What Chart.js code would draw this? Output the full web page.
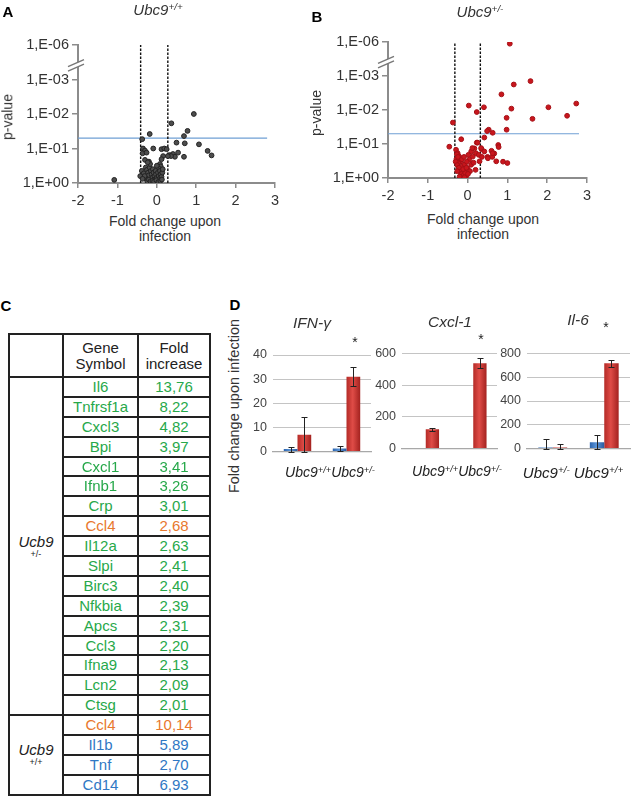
<!DOCTYPE html>
<html><head><meta charset="utf-8">
<script src="https://cdn.jsdelivr.net/npm/chart.js@4.4.1/dist/chart.umd.min.js"></script>
<style>
html,body{margin:0;padding:0;background:#fff;}
body{width:631px;height:796px;position:relative;overflow:hidden;font-family:"Liberation Sans",Arial,sans-serif;color:#333;}
canvas{position:absolute;}
.t{position:absolute;transform:translate(-50%,-50%);white-space:nowrap;line-height:1.1;}
.sup{font-size:0.66em;vertical-align:0.45em;}
table{position:absolute;left:8px;top:333px;border-collapse:collapse;table-layout:fixed;font-size:15px;}
td{border:2px solid #222;text-align:center;padding:0;line-height:16px;overflow:hidden;white-space:nowrap;}
</style></head>
<body>
<canvas id="volA" width="300" height="210" style="left:0;top:0"></canvas>
<canvas id="volB" width="300" height="205" style="left:310px;top:0"></canvas>
<canvas id="barIFN" width="128" height="125" style="left:244px;top:340px"></canvas>
<canvas id="barCXCL" width="128" height="122" style="left:370px;top:340px"></canvas>
<canvas id="barIL6" width="141" height="122" style="left:490px;top:340px"></canvas>
<script>
// ---------- DATA ----------
// Volcano plots: [fold change, -log10(p) axis position]
const yTickLabels = ['1,E+00','1,E-01','1,E-02','1,E-03','1,E-06'];
const pointsA = [[-1.08,0.09],[0.94,2.0],[0.37,1.73],[0.78,1.51],[0.69,1.36],[-0.18,1.42],[-0.37,1.27],[0.50,1.17],[0.71,1.15],[1.07,1.12],[1.29,0.93],[1.39,0.8],[0.69,0.76],
[-0.35,1.0],[-0.30,0.94],[-0.36,0.86],[-0.26,0.88],[-0.09,1.0],[0.12,0.98],[0.19,1.0],[0.25,0.98],[0.33,0.81],[0.41,0.84],[0.46,0.76],[0.54,0.88],[0.36,0.78],[0.28,0.78],
[-0.30,0.67],[-0.20,0.62],[0.16,0.78],[0.12,0.69],[0.08,0.55],[0.10,0.48],[0.05,0.42],
[-0.38,0.35],[-0.33,0.28],[-0.28,0.45],[-0.25,0.38],[-0.22,0.30],[-0.20,0.22],[-0.18,0.45],[-0.15,0.35],[-0.13,0.25],[-0.12,0.15],[-0.10,0.40],[-0.08,0.30],[-0.06,0.20],[-0.05,0.10],[-0.03,0.35],[-0.02,0.25],[0.0,0.15],[0.02,0.05],[0.03,0.30],[0.05,0.20],[0.07,0.12],[0.08,0.35],[0.10,0.25],[0.12,0.18],[0.14,0.30],[0.15,0.40],[-0.27,0.12],[-0.24,0.05],[-0.20,0.10],[-0.16,0.05],[-0.11,0.06],[-0.07,0.04],[-0.01,0.08],[0.04,0.03],[0.09,0.06],[-0.31,0.20],[-0.42,0.20],[-0.36,0.12],[-0.17,0.55],[-0.23,0.60],[0.0,0.5],[0.13,0.10]];
const pointsB = [[1.06,3.95],[1.58,2.85],[1.16,2.75],[0.85,2.46],[2.73,2.19],[0.03,2.13],[0.41,2.08],[2.03,2.08],[1.10,2.04],[0.23,1.94],[2.50,1.83],[0.98,1.77],[1.63,1.74],[-0.37,1.63],[0.98,1.42],[0.53,1.42],[0.49,1.38],[0.63,1.33],[0.42,1.19],[-0.16,1.14],[0.23,1.04],[-0.46,0.92],[0.77,0.97],[0.78,0.91],[0.35,0.85],[0.17,0.87],[0.60,0.80],[0.67,0.72],[0.50,0.62],[0.62,0.62],[0.89,0.48],[1.00,0.44],[0.20,0.24],
[-0.29,0.83],[-0.25,0.73],[-0.21,0.63],[-0.28,0.56],[-0.17,0.49],[-0.23,0.44],[-0.13,0.34],[-0.19,0.24],[-0.08,0.19],[-0.13,0.10],[-0.04,0.05],[0.09,0.78],[0.21,0.73],[0.13,0.63],[0.04,0.54],[0.09,0.39],[0.0,0.29],[0.25,1.04],[0.34,0.88],[0.30,0.49],[0.42,0.78],[0.51,0.58],[0.63,0.73],[0.72,0.49],
[-0.27,0.70],[-0.24,0.62],[-0.30,0.48],[-0.26,0.38],[-0.22,0.30],[-0.18,0.18],[-0.15,0.12],[-0.10,0.08],[-0.06,0.15],[-0.11,0.26],[-0.07,0.40],[-0.03,0.30],[-0.14,0.55],[-0.09,0.62],[-0.02,0.48],[0.02,0.68],[0.06,0.20],[-0.20,0.04],[-0.08,0.02],[0.01,0.12],[0.15,0.45],[-0.26,0.20],[0.12,0.88],[0.28,0.68],[0.36,0.62]];
const foldCutsA = [-0.41, 0.28];
const foldCutsB = [-0.32, 0.32];
const pThreshold = 1.301; // p = 0.05
const thresholdEndX = 2.8;

// Table
const hetGenes = ['Il6','Tnfrsf1a','Cxcl3','Bpi','Cxcl1','Ifnb1','Crp','Ccl4','Il12a','Slpi','Birc3','Nfkbia','Apcs','Ccl3','Ifna9','Lcn2','Ctsg'];
const hetFold  = [13.76,8.22,4.82,3.97,3.41,3.26,3.01,2.68,2.63,2.41,2.40,2.39,2.31,2.20,2.13,2.09,2.01];
const wtGenes  = ['Ccl4','Il1b','Tnf','Cd14'];
const wtFold   = [10.14,5.89,2.70,6.93];

// Bar panels
const catsIFN  = ['Ubc9+/+','Ubc9+/-'];
const ifnBlue = [1.0, 1.2], ifnBlueErr = [1.0, 0.9];
const ifnRed  = [6.9, 31.0], ifnRedErr = [7.5, 3.9];
const catsCXCL = ['Ubc9+/+','Ubc9+/-'];
const cxclBlue = [3, 3], cxclBlueErr = [0, 0];
const cxclRed  = [121, 538], cxclRedErr = [9, 32];
const catsIL6  = ['Ubc9+/-','Ubc9+/+'];
const il6Blue = [8, 52], il6BlueErr = [74, 62];
const il6Red  = [8, 718], il6RedErr = [34, 30];

// ---------- HELPERS ----------
const FAM = '"Liberation Sans", Arial, sans-serif';
function txt(html, cx, cy, style){
  const d=document.createElement('div'); d.className='t'; d.innerHTML=html;
  d.style.left=cx+'px'; d.style.top=cy+'px'; Object.assign(d.style, style||{});
  document.body.appendChild(d); return d;
}
function supLabel(s){ const m=s.match(/^(.*?)([+\-]\/[+\-])$/); return m? m[1]+'<span class="sup">'+m[2]+'</span>' : s; }

const breakPlugin = {id:'axbreak', afterDraw(chart){
  const {ctx, chartArea, scales:{y}} = chart; const x = chartArea.left; const yc = y.getPixelForValue(3.4);
  ctx.save();
  ctx.fillStyle='#fff'; ctx.beginPath();
  ctx.moveTo(x-10,yc+1); ctx.lineTo(x+6,yc-6); ctx.lineTo(x+6,yc-1.5); ctx.lineTo(x-10,yc+5.5); ctx.closePath(); ctx.fill();
  ctx.strokeStyle='#777'; ctx.lineWidth=1.4;
  ctx.beginPath(); ctx.moveTo(x-10,yc+1); ctx.lineTo(x+6,yc-6); ctx.moveTo(x-10,yc+5.5); ctx.lineTo(x+6,yc-1.5); ctx.stroke();
  ctx.restore();
}};

function volcano(id, pts, ptFill, ptBorder, cuts, yW, padTop, padRight){
  const axisCol='#8c8c8c';
  return new Chart(document.getElementById(id), {
    type:'scatter',
    data:{datasets:[
      {data: pts.map(p=>({x:p[0],y:p[1]})), pointRadius:2.4, pointBackgroundColor:ptFill, pointBorderColor:ptBorder, pointBorderWidth:1},
      ...cuts.map(c=>({type:'line', data:[{x:c,y:0},{x:c,y:4}], borderColor:'#111', borderWidth:1.4, borderDash:[2.5,1.5], pointRadius:0, fill:false})),
      {type:'line', data:[{x:-2,y:pThreshold},{x:thresholdEndX,y:pThreshold}], borderColor:'#6f9fd4', borderWidth:1.2, pointRadius:0, fill:false}
    ]},
    options:{responsive:false, animation:false, events:[],
      layout:{padding:{top:padTop,right:padRight,left:0,bottom:0}},
      plugins:{legend:{display:false},tooltip:{enabled:false}},
      scales:{
        x:{type:'linear',min:-2,max:3, afterFit(s){s.height=27;},
           ticks:{stepSize:1, font:{size:14.5,family:FAM}, color:'#333', padding:4},
           grid:{drawOnChartArea:false, tickLength:5, color:axisCol, lineWidth:1.5},
           border:{color:axisCol,width:2}},
        y:{min:0,max:4, afterFit(s){s.width=yW;},
           ticks:{stepSize:1, font:{size:14.5,family:FAM}, color:'#333', padding:3, callback:v=>yTickLabels[v]??''},
           grid:{drawOnChartArea:false, tickLength:6, color:axisCol, lineWidth:1.5},
           border:{color:axisCol,width:2}}
      }
    },
    plugins:[breakPlugin]
  });
}
volcano('volA', pointsA, '#4d4d4d', '#222', foldCutsA, 78, 45, 25);
volcano('volB', pointsB, '#c8161d', '#a50f15', foldCutsB, 78, 42, 23);

// Bars
function gradFor(ctx, dark, light, darker){
  const chart=ctx.chart; const xs=chart.scales.x; if(!xs || xs.right===undefined) return light;
  const n=chart.data.labels.length; const catW=(xs.right-xs.left)/n; const pairW=catW*0.56; const bw=pairW/2;
  const c=xs.getPixelForValue(ctx.dataIndex); const x0=c-pairW/2+ctx.datasetIndex*bw;
  if(!isFinite(x0)) return light;
  const g=chart.ctx.createLinearGradient(x0,0,x0+bw,0);
  g.addColorStop(0,dark); g.addColorStop(0.45,light); g.addColorStop(1,darker); return g;
}
function barChart(id, cats, blue, blueErr, red, redErr, yMax, step, yW, padTop){
  const errs=[blueErr, redErr];
  const errPlugin={id:'err', afterDatasetsDraw(chart){
    const {ctx, scales:{y}}=chart; ctx.save(); ctx.strokeStyle='#222'; ctx.lineWidth=1;
    chart.data.datasets.forEach((ds,i)=>{ chart.getDatasetMeta(i).data.forEach((bar,j)=>{
      const e=errs[i][j]; if(!e) return; const v=ds.data[j];
      const yt=Math.round(y.getPixelForValue(v+e))+0.5, yb=Math.round(y.getPixelForValue(Math.max(0,v-e)))+0.5, x=Math.round(bar.x)+0.5;
      ctx.beginPath(); ctx.moveTo(x,yt); ctx.lineTo(x,yb); ctx.moveTo(x-3,yt); ctx.lineTo(x+3,yt); ctx.moveTo(x-3,yb); ctx.lineTo(x+3,yb); ctx.stroke();
    });});
    ctx.restore();
  }};
  return new Chart(document.getElementById(id), {
    type:'bar',
    data:{labels:cats, datasets:[
      {label:'series 1', data:blue, backgroundColor:c=>gradFor(c,'#2c64ad','#5a95da','#2a5b9e'), categoryPercentage:0.56, barPercentage:1.0},
      {label:'series 2', data:red, backgroundColor:c=>gradFor(c,'#b42b27','#df4c47','#a3221f'), categoryPercentage:0.56, barPercentage:1.0}
    ]},
    options:{responsive:false, animation:false, events:[],
      layout:{padding:{top:padTop,right:1,left:0,bottom:0}},
      plugins:{legend:{display:false},tooltip:{enabled:false}},
      scales:{
        x:{afterFit(s){s.height=4;}, ticks:{display:false}, grid:{display:false}, border:{color:'#a8a8a8',width:1.2}},
        y:{min:0,max:yMax, afterFit(s){s.width=yW;},
           ticks:{stepSize:step, font:{size:12.5,family:'"Liberation Sans Narrow", "Liberation Sans", Arial'}, color:'#444', padding:6},
           grid:{color:'#c4c4c4', drawTicks:false, lineWidth:1}, border:{display:false}}
      }
    },
    plugins:[errPlugin]
  });
}
barChart('barIFN', catsIFN, ifnBlue, ifnBlueErr, ifnRed, ifnRedErr, 40, 10, 29, 15);
barChart('barCXCL', catsCXCL, cxclBlue, cxclBlueErr, cxclRed, cxclRedErr, 600, 200, 32, 13);
barChart('barIL6', catsIL6, il6Blue, il6BlueErr, il6Red, il6RedErr, 800, 200, 37, 11);

// ---------- TEXT ----------
const lab={fontWeight:'bold',fontSize:'15px',color:'#000'};
txt('A',8,12,lab); txt('B',317,17,lab); txt('C',6,306,lab); txt('D',235,305,lab);
const ttl={fontStyle:'italic',fontSize:'15px',color:'#333'};
txt(supLabel('Ubc9+/+'),158,10,ttl); txt(supLabel('Ubc9+/-'),480,12,ttl);
const rot={fontSize:'14px',transform:'translate(-50%,-50%) rotate(-90deg)',color:'#333'};
txt('p-value',8,117,rot); txt('p-value',317,113,rot);
const xt={fontSize:'14px',textAlign:'center',lineHeight:'15.6px',color:'#333'};
txt('Fold change upon<br>infection',165,229.5,xt); txt('Fold change upon<br>infection',483,227.5,xt);
txt('Fold change upon infection',235,406,{fontSize:'14.5px',transform:'translate(-50%,-50%) rotate(-90deg)',color:'#333'});
const dt={fontStyle:'italic',fontSize:'15.5px',color:'#333'};
txt('IFN-γ',312,323,dt); txt('Cxcl-1',450,322,dt); txt('Il-6',578,320,dt);
const ast={fontSize:'14px',color:'#222'};
txt('*',355,343,ast); txt('*',481,340,ast); txt('*',606,328,ast);
const xl={fontStyle:'italic',fontSize:'14px',color:'#222'};
txt(catsIFN.map(supLabel).join(''),330,473,xl);
txt(catsCXCL.map(supLabel).join(''),457,472,xl);
txt(catsIL6.map(supLabel).join(' '),573,473,{...xl,fontSize:'15px'});

// ---------- TABLE ----------
const GREEN='#27a84a', ORANGE='#e8782e', BLUE='#2f78c4';
const fmt=v=>v.toFixed(2).replace('.',',');
function colorOf(g, own){ return (hetGenes.includes(g)&&wtGenes.includes(g)) ? ORANGE : own; }
let h='<colgroup><col style="width:54px"><col style="width:75px"><col style="width:72px"></colgroup>';
h+='<tr style="height:43px"><td></td><td style="color:#222">Gene<br>Symbol</td><td style="color:#222">Fold<br>increase</td></tr>';
const grp=(genes,fold,own,sup)=>{
  let s='';
  genes.forEach((g,i)=>{
    s+='<tr style="height:19.9px">';
    if(i===0) s+='<td rowspan="'+genes.length+'" style="vertical-align:middle;color:#222"><div style="font-style:italic;font-size:15px;line-height:15px;color:#222">Ucb9</div><div style="font-size:9px;line-height:10px;color:#222">'+sup+'</div></td>';
    const c=colorOf(g,own);
    s+='<td style="color:'+c+'">'+g+'</td><td style="color:'+c+'">'+fmt(fold[i])+'</td></tr>';
  });
  return s;
};
h+=grp(hetGenes,hetFold,GREEN,'+/-');
h+=grp(wtGenes,wtFold,BLUE,'+/+');
const tb=document.createElement('table'); tb.innerHTML=h; document.body.appendChild(tb);
</script>
</body></html>
